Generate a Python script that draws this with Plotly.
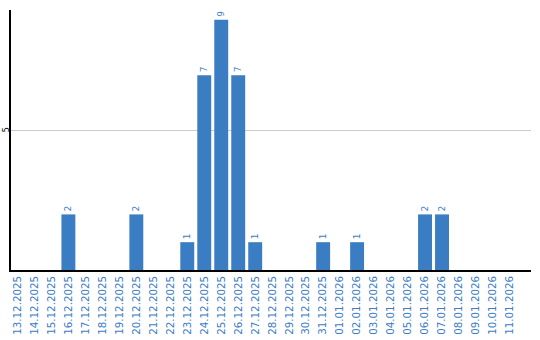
import plotly.graph_objects as go

dates = ["13.12.2025","14.12.2025","15.12.2025","16.12.2025","17.12.2025","18.12.2025",
         "19.12.2025","20.12.2025","21.12.2025","22.12.2025","23.12.2025","24.12.2025",
         "25.12.2025","26.12.2025","27.12.2025","28.12.2025","29.12.2025","30.12.2025",
         "31.12.2025","01.01.2026","02.01.2026","03.01.2026","04.01.2026","05.01.2026",
         "06.01.2026","07.01.2026","08.01.2026","09.01.2026","10.01.2026","11.01.2026"]
counts = [0,0,0,2,0,0,0,2,0,0,1,7,9,7,1,0,0,0,1,0,1,0,0,0,2,2,0,0,0,0]
labels = [str(v) if v > 0 else "" for v in counts]

blue = "#3b7dc3"

fig = go.Figure(go.Bar(
    x=list(range(len(dates))), y=counts, text=labels,
    textposition="outside", textangle=-90,
    textfont=dict(color=blue, size=9, family="DejaVu Sans"),
    marker=dict(color=blue, line=dict(width=0)),
    cliponaxis=False,
))

fig.update_layout(
    width=540, height=340,
    margin=dict(l=10.5, r=9, t=10, b=70),
    paper_bgcolor="white", plot_bgcolor="white",
    bargap=0.18, showlegend=False,
    xaxis=dict(
        range=[-0.38, 30.24], tickmode="array",
        tickvals=list(range(len(dates))), ticktext=dates,
        tickangle=-90, tickfont=dict(color=blue, size=10.3, family="DejaVu Sans"),
        showline=True, linecolor="black", linewidth=1.5,
        showgrid=False, ticks="", zeroline=False, automargin=False,
    ),
    yaxis=dict(
        range=[0, 9.35], tickmode="array", tickvals=[5], ticktext=["5"],
        tickangle=-90, tickfont=dict(color="black", size=8, family="DejaVu Sans"),
        ticklabelstandoff=-3,
        showline=True, linecolor="black", linewidth=1.5,
        showgrid=True, gridcolor="#cccccc", gridwidth=1,
        ticks="", zeroline=False, automargin=False,
    ),
)

fig.write_html("out.html")
